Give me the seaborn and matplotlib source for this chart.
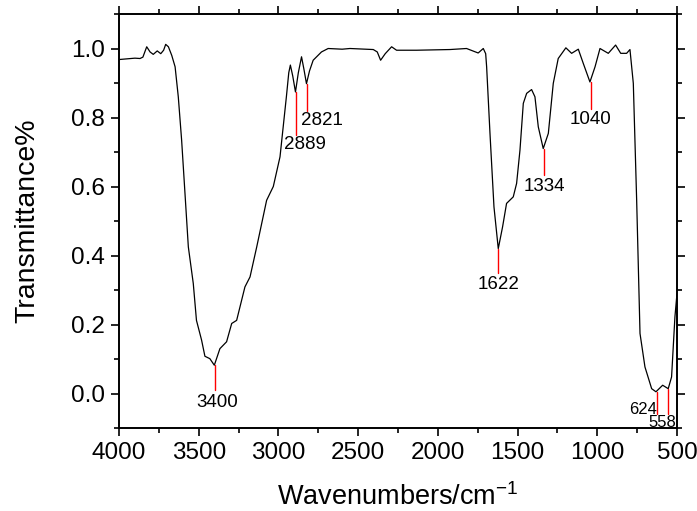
import matplotlib
matplotlib.use("Agg")
import matplotlib.pyplot as plt
import seaborn as sns
import pandas as pd
from matplotlib.ticker import MultipleLocator, FormatStrFormatter

# ---- data ----
wavenumber = [4000, 3950, 3900, 3868, 3850, 3826, 3805, 3785, 3760, 3738, 3720, 3707, 3690, 3669,
              3648, 3628, 3607, 3586, 3565, 3534, 3514, 3482, 3461, 3430, 3402, 3367, 3325, 3293,
              3262, 3210, 3178, 3136, 3074, 3032, 2990, 2970, 2950, 2935, 2925, 2910, 2893, 2875,
              2855, 2840, 2824, 2805, 2782, 2730, 2688, 2600, 2551, 2405, 2380, 2359, 2330, 2290,
              2259, 2133, 1924, 1820, 1747, 1715, 1700, 1694, 1673, 1648, 1621, 1594, 1569, 1527,
              1506, 1485, 1464, 1443, 1412, 1391, 1370, 1339, 1307, 1276, 1245, 1197, 1161, 1119,
              1088, 1046, 1014, 983, 931, 885, 853, 816, 795, 774, 753, 732, 701, 659, 632, 590,
              555, 534, 513, 500]
transmittance = [0.968, 0.970, 0.972, 0.971, 0.975, 1.005, 0.990, 0.983, 0.993, 0.985, 0.995, 1.012,
                 1.005, 0.980, 0.947, 0.860, 0.734, 0.580, 0.425, 0.319, 0.212, 0.155, 0.108, 0.101,
                 0.082, 0.130, 0.150, 0.203, 0.212, 0.309, 0.338, 0.425, 0.560, 0.600, 0.686, 0.773,
                 0.860, 0.930, 0.952, 0.920, 0.874, 0.930, 0.976, 0.940, 0.898, 0.935, 0.966, 0.990,
                 1.000, 0.998, 1.000, 0.997, 0.990, 0.966, 0.985, 1.005, 0.995, 0.995, 0.997, 1.000,
                 0.987, 1.000, 0.985, 0.947, 0.754, 0.541, 0.420, 0.483, 0.551, 0.570, 0.609, 0.705,
                 0.841, 0.870, 0.881, 0.860, 0.773, 0.710, 0.754, 0.899, 0.971, 1.002, 0.986, 0.998,
                 0.957, 0.903, 0.947, 1.000, 0.986, 1.010, 0.986, 0.986, 0.997, 0.899, 0.560, 0.174,
                 0.077, 0.014, 0.005, 0.024, 0.014, 0.048, 0.222, 0.290]

peak_labels = ["3400", "2889", "2821", "1622", "1334", "1040", "624", "558"]
peak_x = [3400, 2889, 2821, 1622, 1334, 1040, 627, 555]
peak_y = [0.082, 0.874, 0.898, 0.420, 0.710, 0.903, 0.005, 0.014]

# ---- layout / style for annotations (not data) ----
line_end = [0.010, 0.750, 0.820, 0.348, 0.632, 0.826, -0.058, -0.058]
text_dx = [-15, -56, -97, 0, 0, 0, 0, 40]        # wavenumber offsets for label text
text_y = [0.000, 0.745, 0.815, 0.340, 0.625, 0.820, -0.025, -0.063]
text_ha = ["center", "center", "center", "center", "center", "center", "right", "center"]
text_size = [13.5, 13.5, 13.5, 13.5, 13.5, 13.5, 12, 12]

sns.set_style("ticks")
plt.rcParams['font.family'] = ['Liberation Sans', 'DejaVu Sans']
plt.rcParams.update({"text.color": "black", "axes.labelcolor": "black",
                     "xtick.color": "black", "ytick.color": "black"})

fig = plt.figure(figsize=(6.97, 5.11), dpi=100)
ax = fig.add_axes([0.1707, 0.1624, 0.8006, 0.8102])

df = pd.DataFrame({"wavenumber": wavenumber, "T": transmittance})
sns.lineplot(data=df, x="wavenumber", y="T", ax=ax, color="black", linewidth=0.9, sort=False)

for lab, px, py, le, dx, ty, ha, fs in zip(peak_labels, peak_x, peak_y, line_end,
                                           text_dx, text_y, text_ha, text_size):
    ax.plot([px, px], [py, le], color="red", linewidth=1.0)
    ax.text(px + dx if ha == "center" else px, ty, lab, ha=ha, va="top", fontsize=fs,
            color="black")

ax.set_xlim(4000, 500)
ax.set_ylim(-0.1, 1.1)
ax.xaxis.set_major_locator(MultipleLocator(500))
ax.xaxis.set_minor_locator(MultipleLocator(250))
ax.yaxis.set_major_locator(MultipleLocator(0.2))
ax.yaxis.set_minor_locator(MultipleLocator(0.1))
ax.yaxis.set_major_formatter(FormatStrFormatter('%.1f'))

ax.tick_params(which="both", direction="out", top=True, right=True, labeltop=False,
               labelright=False, width=1.2, color="black")
ax.tick_params(which="major", length=6, labelsize=17.5, pad=4)
ax.tick_params(which="minor", length=3.5)
for s in ax.spines.values():
    s.set_linewidth(1.4)
    s.set_color("black")
    s.set_visible(True)

ax.set_xlabel(r"Wavenumbers/cm$\mathregular{^{-1}}$", fontsize=19.5, labelpad=14)
ax.set_ylabel("Transmittance%", fontsize=20.5, labelpad=22)

fig.savefig("out.png", dpi=100)
